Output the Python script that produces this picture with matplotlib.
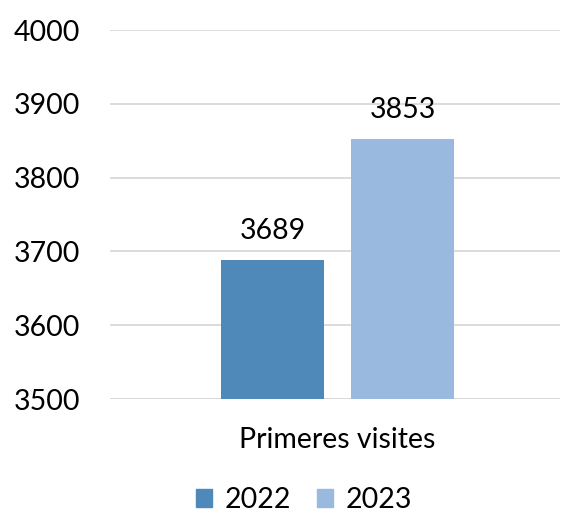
import matplotlib.pyplot as plt
from matplotlib.patches import Patch

# Données
categories = ["Primeres visites"]
series = ["2022", "2023"]
valeurs = [3689, 3853]
couleurs = ["#4F89BA", "#99B9DF"]

plt.rcParams['font.family'] = ['Lato', 'DejaVu Sans']

fig = plt.figure(figsize=(5.63, 5.14), dpi=100)
ax = fig.add_axes([0.195, 0.2237, 0.80, 0.7179])

largeur = 0.229
ecart = 0.06
centre = 0.006
for i, (v, c) in enumerate(zip(valeurs, couleurs)):
    x = centre + (i - 0.5) * (largeur + ecart)
    ax.bar(x, v, width=largeur, color=c, zorder=2)
    ax.annotate(str(v), (x, v), xytext=(0, 11), textcoords="offset points",
                ha="center", va="bottom", fontsize=20.5)

ax.set_xlim(-0.5, 0.5)
ax.set_ylim(3500, 4000)
ax.set_yticks(range(3500, 4001, 100))
ax.yaxis.grid(True, color="#D9D9D9", linewidth=1.3, zorder=0)
ax.set_xticks([centre])
ax.set_xticklabels(categories)
ax.tick_params(axis="both", length=0, labelsize=20.5)
ax.tick_params(axis="y", pad=21.5)
ax.tick_params(axis="x", pad=20)
for s in ax.spines.values():
    s.set_visible(False)
ax.axhline(3500, color="#D9D9D9", linewidth=1.3, zorder=1)

handles = [Patch(color=c, label=s) for s, c in zip(series, couleurs)]
fig.legend(handles=handles, loc="center", bbox_to_anchor=(0.54, 0.027), ncol=2,
           frameon=False, fontsize=20.5, handlelength=0.57, handleheight=0.57,
           handletextpad=0.45, columnspacing=0.9)

fig.savefig("out.png", dpi=100)
